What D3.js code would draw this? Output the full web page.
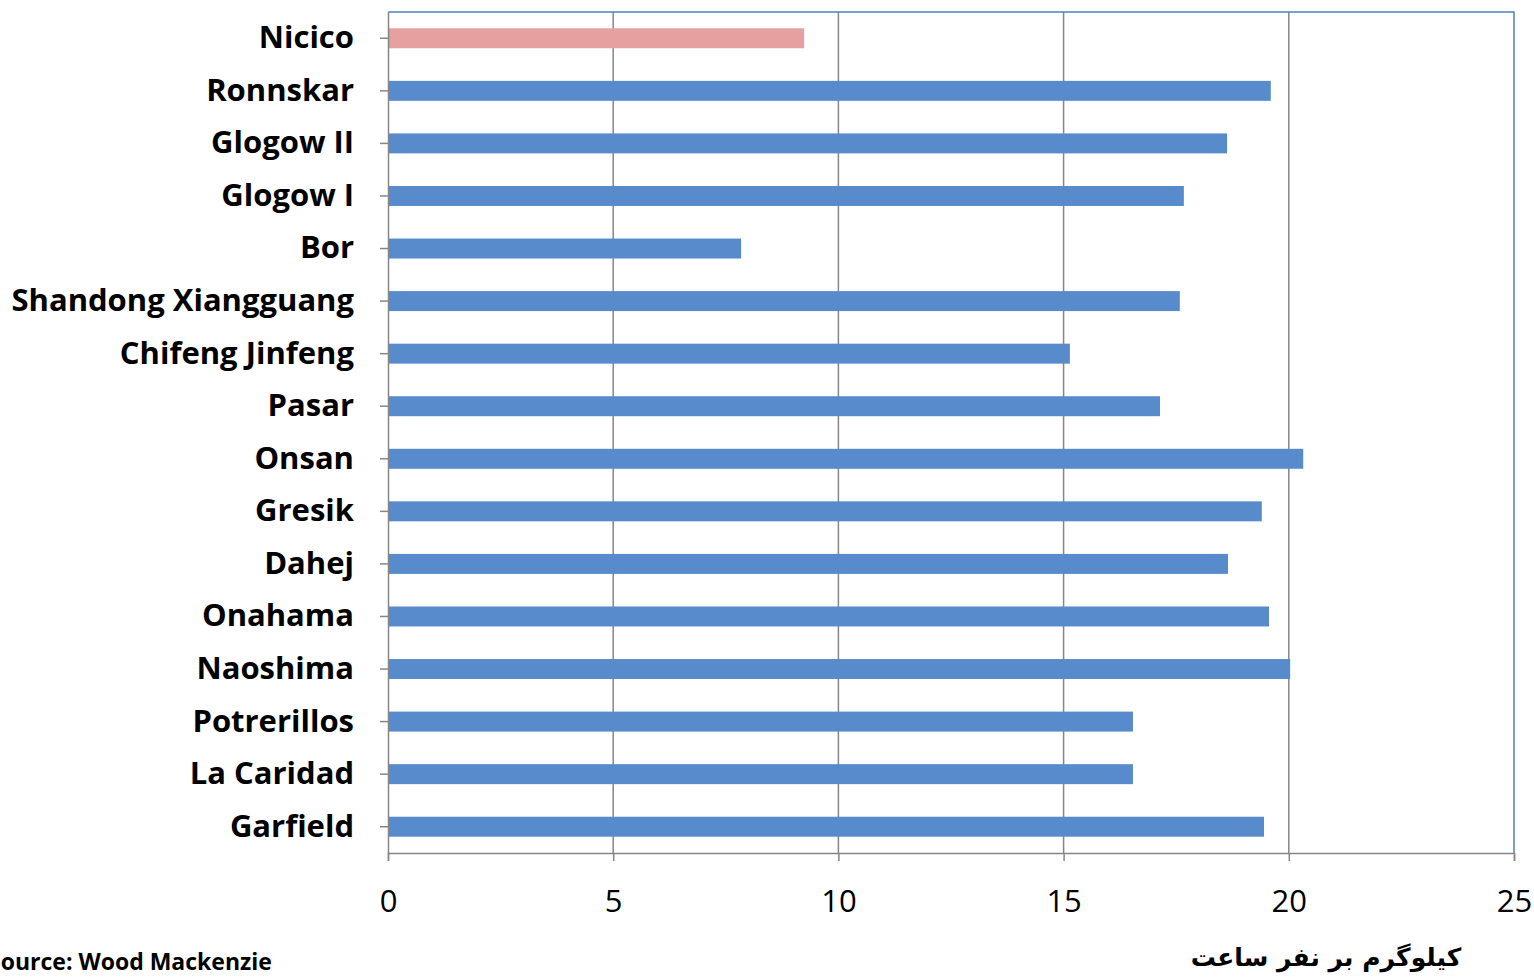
<!DOCTYPE html>
<html>
<head>
<meta charset="utf-8">
<script src="https://cdn.jsdelivr.net/npm/d3@7"></script>
<style>
  body { margin: 0; background: #fff; }
  svg { display: block; }
</style>
</head>
<body>
<svg width="1534" height="977"></svg>
<script>
// smelter names, top to bottom
const plants = ["Nicico", "Ronnskar", "Glogow II", "Glogow I", "Bor", "Shandong Xiangguang",
  "Chifeng Jinfeng", "Pasar", "Onsan", "Gresik", "Dahej", "Onahama", "Naoshima",
  "Potrerillos", "La Caridad", "Garfield"];
// kg per man-hour
const values = [9.24, 19.6, 18.63, 17.67, 7.84, 17.58, 15.14, 17.14, 20.32, 19.4, 18.65,
  19.56, 20.03, 16.54, 16.54, 19.45];
const xTicks = [0, 5, 10, 15, 20, 25];
const highlight = "Nicico";

const svg = d3.select("svg");
const plotL = 388, plotR = 1514, plotT = 12, plotB = 853;

const x = d3.scaleLinear().domain([0, 25]).range([plotL, plotR]);
const y = d3.scaleBand().domain(plants).range([plotT, plotB]).paddingInner(0.62).paddingOuter(0.31);

// gridlines
svg.append("g")
  .selectAll("line")
  .data(xTicks.slice(1, -1))
  .join("line")
  .attr("x1", d => x(d)).attr("x2", d => x(d))
  .attr("y1", plotT).attr("y2", plotB)
  .attr("stroke", "#868686").attr("stroke-width", 1.5);

// top & right border (blue)
svg.append("path")
  .attr("d", `M${plotL},${plotT}H${plotR}V${plotB}`)
  .attr("fill", "none").attr("stroke", "#4f81bd").attr("stroke-width", 1.5);

// bars
svg.append("g")
  .selectAll("rect")
  .data(plants)
  .join("rect")
  .attr("x", x(0))
  .attr("y", d => y(d))
  .attr("width", (d, i) => x(values[i]) - x(0))
  .attr("height", y.bandwidth())
  .attr("fill", d => d === highlight ? "#e6a09f" : "#588bcb");

// x axis
const xAxis = svg.append("g")
  .attr("transform", `translate(0,${plotB})`)
  .call(d3.axisBottom(x).tickValues(xTicks).tickSize(8).tickPadding(29));
xAxis.select(".domain").attr("stroke", "#868686").attr("stroke-width", 1.5);
xAxis.selectAll(".tick line").attr("stroke", "#868686").attr("stroke-width", 1.5);
xAxis.selectAll(".tick text")
  .attr("font-family", "'Open Sans', sans-serif")
  .attr("font-size", 31).attr("fill", "#000");

// y axis
const yAxis = svg.append("g")
  .attr("transform", `translate(${plotL},0)`)
  .call(d3.axisLeft(y).tickSize(8).tickPadding(26).tickSizeOuter(0));
yAxis.select(".domain").attr("stroke", "#868686").attr("stroke-width", 1.5);
yAxis.selectAll(".tick text")
  .attr("font-family", "'Open Sans', sans-serif")
  .attr("font-weight", "bold")
  .attr("font-size", 31).attr("fill", "#000");
yAxis.selectAll(".tick line").attr("stroke", "#868686").attr("stroke-width", 1.5);

// axis title
svg.append("text")
  .attr("x", 1326).attr("y", 966)
  .attr("text-anchor", "middle")
  .attr("direction", "rtl")
  .attr("font-family", "'DejaVu Sans', sans-serif")
  .attr("font-weight", "bold")
  .attr("font-size", 25)
  .text("کیلوگرم بر نفر ساعت");

// source note (cut at left edge like the original)
svg.append("text")
  .attr("x", -12).attr("y", 970)
  .attr("font-family", "'Open Sans', sans-serif")
  .attr("font-weight", "bold")
  .attr("font-size", 23)
  .text("Source: Wood Mackenzie");
</script>
</body>
</html>
